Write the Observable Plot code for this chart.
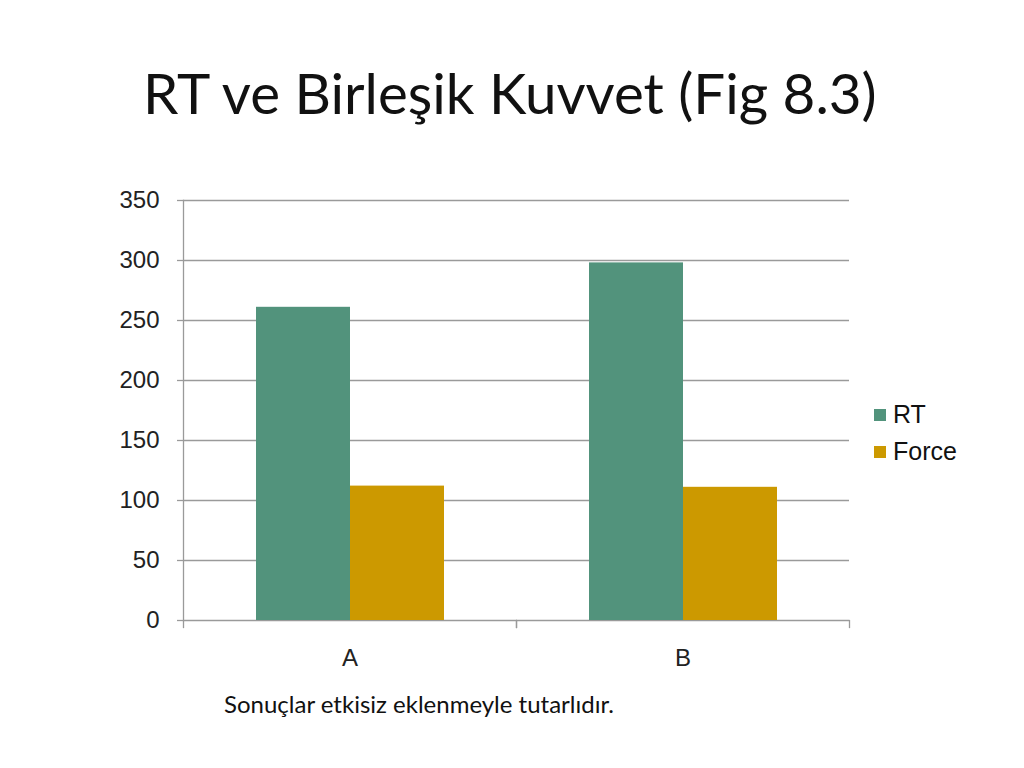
<!DOCTYPE html>
<html><head><meta charset="utf-8">
<script src="https://cdn.jsdelivr.net/npm/d3@7"></script>
<script src="https://cdn.jsdelivr.net/npm/@observablehq/plot@0.6"></script>
<style>
body{margin:0;background:#fff;}
#page{position:relative;width:1024px;height:768px;overflow:hidden;background:#fff;}
#title{position:absolute;left:143px;top:64px;font-family:Lato,"Noto Sans",sans-serif;font-size:56.5px;color:#111;white-space:nowrap;line-height:1;}
#chart{position:absolute;left:0;top:170px;}
#legend{position:absolute;left:874px;top:396px;font-family:"Liberation Sans",Arial,sans-serif;font-size:25px;color:#111;}
.item{display:flex;align-items:center;height:37px;}
.sw{width:12px;height:12px;margin-right:7px;}
#caption{position:absolute;left:224px;top:690px;font-family:Lato,"Noto Sans",sans-serif;font-size:24px;color:#111;white-space:nowrap;line-height:1.2;}
</style></head><body>
<div id="page">
  <div id="title">RT ve Birleşik Kuvvet (Fig 8.3)</div>
  <div id="chart"></div>
  <div id="legend"></div>
  <div id="caption">Sonuçlar etkisiz eklenmeyle tutarlıdır.</div>
</div>
<script>
const categories = ["A", "B"];
const series = ["RT", "Force"];
const rtValues = [261, 298];
const forceValues = [112, 111];
const yTicks = [0, 50, 100, 150, 200, 250, 300, 350];
const colors = ["#52937C", "#CC9900"];

const rows = categories.flatMap((c, i) => [
  {category: c, series: "RT", value: rtValues[i]},
  {category: c, series: "Force", value: forceValues[i]}
]);

const chart = Plot.plot({
  width: 1024,
  height: 530,
  marginTop: 30,
  marginBottom: 80,
  marginLeft: 182,
  marginRight: 175,
  style: {fontFamily: "'Liberation Sans', Arial, sans-serif", fontSize: "24px", color: "#222", background: "transparent"},
  fx: {domain: categories, padding: 0, label: null},
  x: {domain: series, paddingInner: 0, paddingOuter: 0.755, axis: null},
  y: {domain: [0, 350], label: null},
  color: {domain: series, range: colors},
  marks: [
    Plot.ruleY(yTicks, {stroke: "#9a9a9a", strokeWidth: 1.3}),
    Plot.barY(rows, {fx: "category", x: "series", y: "value", fill: "series"}),
    Plot.frame({anchor: "left", stroke: "#9a9a9a", strokeWidth: 1.3, facetAnchor: "left"}),
    Plot.frame({anchor: "left", stroke: "#9a9a9a", strokeWidth: 1.3, insetTop: 420, insetBottom: -7}),
    Plot.frame({anchor: "right", stroke: "#9a9a9a", strokeWidth: 1.3, insetTop: 420, insetBottom: -7}),
    Plot.axisY({ticks: yTicks, tickSize: 6, text: null, stroke: "#9a9a9a", strokeWidth: 1.3, label: null}),
    Plot.axisY({ticks: yTicks, tickSize: 0, tickPadding: 24, fill: "#222", fontSize: 24, label: null}),
    Plot.axisFx({anchor: "bottom", tickSize: 0, tickPadding: 28, fill: "#222", fontSize: 24, label: null})
  ]
});
document.getElementById("chart").appendChild(chart);

const legend = document.getElementById("legend");
series.forEach((s, i) => {
  const item = document.createElement("div");
  item.className = "item";
  const sw = document.createElement("div");
  sw.className = "sw";
  sw.style.background = colors[i];
  const label = document.createElement("span");
  label.textContent = s;
  item.appendChild(sw);
  item.appendChild(label);
  legend.appendChild(item);
});
</script>
</body></html>
